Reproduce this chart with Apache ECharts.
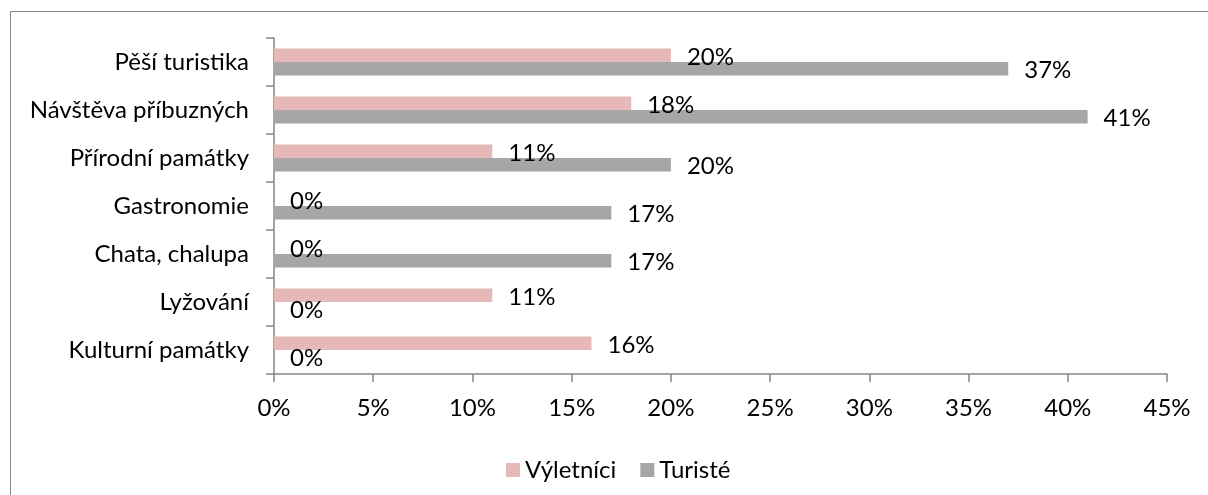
<!DOCTYPE html>
<html>
<head>
<meta charset="utf-8">
<script src="https://cdn.jsdelivr.net/npm/echarts@6/dist/echarts.min.js"></script>
<style>
  html, body { margin: 0; padding: 0; background: #fff; }
  #chart { width: 1208px; height: 495px; }
</style>
</head>
<body>
<div id="chart"></div>
<script>
// kategorie shora dolů
const categories = ['Pěší turistika', 'Návštěva příbuzných', 'Přírodní památky', 'Gastronomie', 'Chata, chalupa', 'Lyžování', 'Kulturní památky']
const vyletnici = [20, 18, 11, 0, 0, 11, 16]
const turiste = [37, 41, 20, 17, 17, 0, 0]
const seriesNames = ['Výletníci', 'Turisté']

const font = 'Lato'
const fontSize = 24
const axisColor = '#868686'

const mychart = echarts.init(document.getElementById('chart'))
mychart.setOption({
  animation: false,
  textStyle: { fontFamily: font },
  // rámeček grafu
  graphic: [{
    type: 'rect',
    left: 8,
    top: 9,
    shape: { width: 1300, height: 600 },
    style: { fill: 'none', stroke: axisColor, lineWidth: 1 },
    silent: true
  }],
  grid: {
    left: 274,
    right: 41,
    top: 38,
    bottom: 121
  },
  legend: {
    left: 501,
    top: 453,
    itemWidth: 14,
    itemHeight: 14,
    itemGap: 24,
    icon: 'rect',
    textStyle: { fontFamily: font, fontSize: fontSize, color: '#000' },
    data: seriesNames
  },
  xAxis: {
    type: 'value',
    min: 0,
    max: 45,
    interval: 5,
    splitLine: { show: false },
    axisLine: { show: true, lineStyle: { color: axisColor, width: 1.5 } },
    axisTick: { show: true, length: 8, lineStyle: { color: axisColor, width: 1.5 } },
    axisLabel: { formatter: '{value}%', color: '#000', fontSize: fontSize, fontFamily: font, margin: 22 }
  },
  yAxis: {
    type: 'category',
    inverse: true,
    data: categories,
    axisLine: { show: true, lineStyle: { color: axisColor, width: 1.5 } },
    axisTick: { show: true, length: 8, lineStyle: { color: axisColor, width: 1.5 } },
    axisLabel: { color: '#000', fontSize: fontSize, fontFamily: font, margin: 25 }
  },
  series: [
    {
      name: seriesNames[0],
      type: 'bar',
      data: vyletnici,
      barWidth: 13.5,
      barGap: '0%',
      itemStyle: { color: '#e6b9b8' },
      label: {
        show: true,
        position: 'right',
        distance: 16,
        offset: [0, 2],
        formatter: '{c}%',
        color: '#000',
        fontSize: fontSize,
        fontFamily: font
      }
    },
    {
      name: seriesNames[1],
      type: 'bar',
      data: turiste,
      barWidth: 13.5,
      barGap: '0%',
      itemStyle: { color: '#a6a6a6' },
      label: {
        show: true,
        position: 'right',
        distance: 16,
        offset: [0, 2],
        formatter: '{c}%',
        color: '#000',
        fontSize: fontSize,
        fontFamily: font
      }
    }
  ]
})
</script>
</body>
</html>
